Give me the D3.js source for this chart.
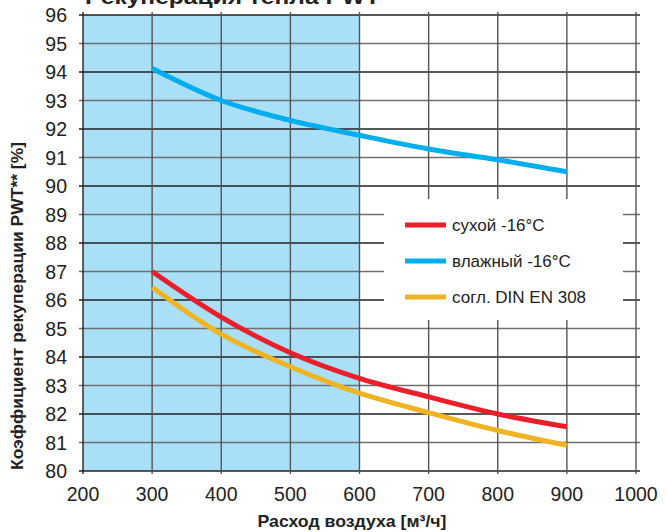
<!DOCTYPE html>
<html><head><meta charset="utf-8">
<script src="https://cdn.jsdelivr.net/npm/d3@7/dist/d3.min.js"></script>
<style>body{margin:0;background:#fff;} svg{display:block;font-family:Arial,"Liberation Sans",Helvetica,sans-serif;}</style>
</head><body>
<svg id="c" width="666" height="532"></svg>
<script>
const xTicks = [200,300,400,500,600,700,800,900,1000];
const yTicks = [80,81,82,83,84,85,86,87,88,89,90,91,92,93,94,95,96];
const flow = [300,400,500,600,700,800,900];
const dry = [87.0,85.4,84.15,83.25,82.6,82.0,81.55];
const wet = [94.12,93.0,92.3,91.78,91.3,90.92,90.5];
const din = [86.45,84.8,83.66,82.73,82.05,81.42,80.9];
const seriesNames = ["сухой -16°C","влажный -16°C","согл. DIN EN 308"];
const seriesColors = ["#ea1f2b","#00aeef","#f0b323"];
const shadeRange = [200,600];

const svg = d3.select("#c");
const L=83,R=636,T=15,B=471;
const x = d3.scaleLinear().domain([200,1000]).range([L,R]);
const y = d3.scaleLinear().domain([80,96]).range([B,T]);

// shaded region
svg.append("rect").attr("x",x(shadeRange[0])).attr("y",T).attr("width",x(shadeRange[1])-x(shadeRange[0])).attr("height",B-T).attr("fill","#a9e0f8");

// grid
svg.append("g").selectAll("line").data(yTicks).join("line")
  .attr("x1",L-4).attr("x2",R+4).attr("y1",d=>y(d)).attr("y2",d=>y(d))
  .attr("stroke",d=>d%2===0?"#222":"#6f6f6f").attr("stroke-width",1.4);
svg.append("g").selectAll("line").data(xTicks).join("line")
  .attr("x1",d=>x(d)).attr("x2",d=>x(d)).attr("y1",T-3).attr("y2",B+3)
  .attr("stroke",d=>d===200?"#222":"#555").attr("stroke-width",1.4);

// legend box
svg.append("rect").attr("x",384).attr("y",199).attr("width",239).attr("height",121).attr("fill","#fff");

// lines
const line = d3.line().x(d=>x(d[0])).y(d=>y(d[1])).curve(d3.curveMonotoneX);
[dry,wet,din].forEach((s,i)=>{
  svg.append("path").datum(flow.map((f,j)=>[f,s[j]])).attr("d",line)
    .attr("fill","none").attr("stroke",seriesColors[i]).attr("stroke-width",5);
});

// legend
const lg = svg.append("g");
seriesNames.forEach((n,i)=>{
  const yy = 225 + i*36;
  lg.append("line").attr("x1",405).attr("x2",446).attr("y1",yy).attr("y2",yy).attr("stroke",seriesColors[i]).attr("stroke-width",5);
  lg.append("text").attr("x",452).attr("y",yy+6).attr("font-size",17).attr("fill","#222").text(n);
});

// tick labels
svg.append("g").selectAll("text").data(yTicks).join("text")
  .attr("x",67).attr("y",d=>y(d)).attr("dy","0.36em").attr("text-anchor","end")
  .attr("font-size",19.5).attr("fill","#222").text(d=>d);
svg.append("g").selectAll("text").data(xTicks).join("text")
  .attr("x",d=>x(d)).attr("y",501).attr("text-anchor","middle")
  .attr("font-size",19.5).attr("fill","#222").text(d=>d);

// axis titles
svg.append("text").attr("x",352).attr("y",527).attr("text-anchor","middle")
  .attr("font-size",17).attr("font-weight","bold").attr("fill","#222")
  .attr("textLength",189).attr("lengthAdjust","spacingAndGlyphs")
  .text("Расход воздуха [м³/ч]");
svg.append("text").attr("transform","translate(23,306) rotate(-90)").attr("text-anchor","middle")
  .attr("font-size",16.5).attr("font-weight","bold").attr("fill","#222")
  .attr("textLength",328).attr("lengthAdjust","spacingAndGlyphs")
  .text("Коэффициент рекуперации PWT** [%]");
// title (cut off at top, as in the original)
svg.append("text").attr("x",85).attr("y",4).attr("font-size",21).attr("font-weight","bold").attr("fill","#222")
  .attr("textLength",295).attr("lengthAdjust","spacingAndGlyphs")
  .text("Рекуперация тепла PWT");
</script>
</body></html>
